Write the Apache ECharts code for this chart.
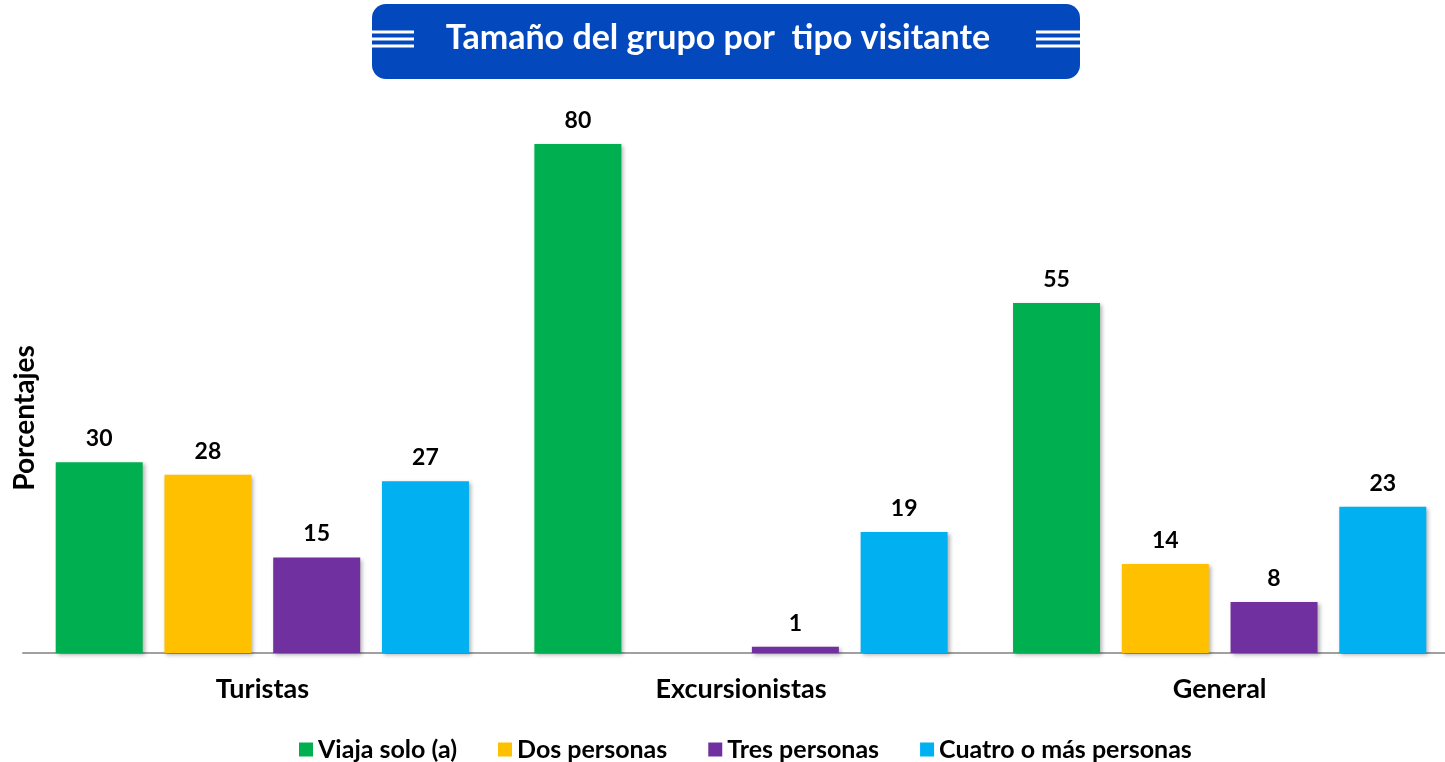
<!DOCTYPE html>
<html>
<head>
<meta charset="utf-8">
<script src="https://cdn.jsdelivr.net/npm/echarts@6/dist/echarts.min.js"></script>
<style>
  html, body { margin: 0; padding: 0; background: #fff; overflow: hidden; }
  #chart { width: 1460px; height: 762px; }
</style>
</head>
<body>
<div id="chart"></div>
<script>
// datos
var categorias = ['Turistas', 'Excursionistas', 'General'];
var viajaSolo = [30, 80, 55];
var dosPersonas = [28, null, 14];
var tresPersonas = [15, 1, 8];
var cuatroMas = [27, 19, 23];

var nombres = ['Viaja solo (a)', 'Dos personas', 'Tres personas', 'Cuatro o más personas'];
var colores = ['#00B050', '#FFC000', '#7030A0', '#00B0F0'];
var fuente = 'Lato, "Open Sans", sans-serif';

function serie(nombre, valores) {
    return {
        name: nombre,
        type: 'bar',
        barWidth: 87,
        barGap: '25%',
        data: valores,
        itemStyle: {
            shadowBlur: 4,
            shadowColor: 'rgba(0,0,0,0.3)',
            shadowOffsetX: 2,
            shadowOffsetY: 2
        },
        label: {
            show: true,
            position: 'top',
            distance: 12,
            color: '#000',
            fontWeight: 'bold',
            fontSize: 23,
            fontFamily: fuente
        }
    };
}

var chart = echarts.init(document.getElementById('chart'));

// franjas blancas del titulo
var franjas = [];
[[372, 414], [1036, 1080]].forEach(function (p) {
    [32, 39, 46].forEach(function (y) {
        franjas.push({
            type: 'line',
            shape: {x1: p[0], y1: y, x2: p[1], y2: y},
            style: {stroke: '#fff', lineWidth: 3}
        });
    });
});

chart.setOption({
    color: colores,
    animation: false,
    grid: {left: 23, top: 144, width: 1436, bottom: 109, containLabel: false},
    xAxis: {
        type: 'category',
        data: categorias,
        axisLine: {lineStyle: {color: '#a0a0a0', width: 2}},
        axisTick: {show: false},
        axisLabel: {
            margin: 23,
            color: '#000',
            fontWeight: 'bold',
            fontSize: 27,
            fontFamily: fuente
        }
    },
    yAxis: {
        type: 'value',
        min: 0,
        max: 80,
        show: false
    },
    legend: {
        data: nombres,
        top: 732,
        left: 294,
        itemWidth: 14,
        itemHeight: 14,
        itemGap: 41,
        icon: 'rect',
        textStyle: {
            color: '#000',
            fontWeight: 'bold',
            fontSize: 25,
            fontFamily: fuente,
            padding: [0, 0, 0, 0]
        }
    },
    graphic: [
        {
            type: 'rect',
            shape: {x: 372, y: 4, width: 708, height: 75, r: 14},
            style: {fill: '#0448BE'}
        },
        {
            type: 'text',
            x: 718,
            y: 38,
            style: {
                text: 'Tamaño del grupo por  tipo visitante',
                fill: '#fff',
                font: 'bold 34px ' + fuente,
                textAlign: 'center',
                textVerticalAlign: 'middle'
            }
        },
        {
            type: 'text',
            x: 25,
            y: 418,
            rotation: Math.PI / 2,
            style: {
                text: 'Porcentajes',
                fill: '#000',
                font: 'bold 28px ' + fuente,
                textAlign: 'center',
                textVerticalAlign: 'middle'
            }
        }
    ].concat(franjas),
    series: [
        serie(nombres[0], viajaSolo),
        serie(nombres[1], dosPersonas),
        serie(nombres[2], tresPersonas),
        serie(nombres[3], cuatroMas)
    ]
});
</script>
</body>
</html>
